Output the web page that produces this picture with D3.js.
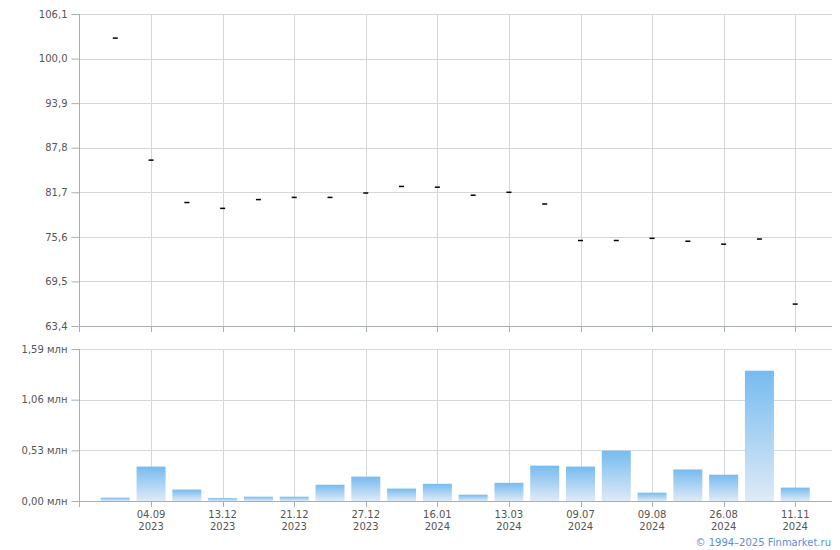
<!DOCTYPE html>
<html>
<head>
<meta charset="utf-8">
<script src="https://cdn.jsdelivr.net/npm/d3@7"></script>
<style>
  html, body { margin: 0; padding: 0; background: #fff; }
  svg { display: block; font-family: "DejaVu Sans", Verdana, sans-serif; }
</style>
</head>
<body>
<svg id="chart" width="840" height="550"></svg>
<script>
// ---- data ----
const dates = ["d0","04.09 2023","d2","13.12 2023","d4","21.12 2023","d6","27.12 2023","d8","16.01 2024",
               "d10","13.03 2024","d12","09.07 2024","d14","09.08 2024","d16","26.08 2024","d18","11.11 2024"];
const prices = [102.8, 86.1, 80.3, 79.5, 80.7, 81.0, 81.0, 81.6, 82.5, 82.4,
                81.3, 81.7, 80.1, 75.1, 75.1, 75.4, 75.0, 74.6, 75.3, 66.4];
const volumes = [0.035, 0.36, 0.12, 0.03, 0.045, 0.045, 0.17, 0.255, 0.13, 0.18,
                 0.066, 0.19, 0.37, 0.36, 0.526, 0.087, 0.33, 0.275, 1.363, 0.14];
const priceTicks = [63.4, 69.5, 75.6, 81.7, 87.8, 93.9, 100.0, 106.1];
const volumeTicks = [0, 0.53, 1.06, 1.59];
const labeledDates = ["04.09 2023","13.12 2023","21.12 2023","27.12 2023","16.01 2024",
                      "13.03 2024","09.07 2024","09.08 2024","26.08 2024","11.11 2024"];

// ---- layout ----
const svg = d3.select("#chart");
const left = 79.5, right = 832;
const top1 = 14, bot1 = 326;
const top2 = 349, bot2 = 501;
const gridColor = "#d3d7dc", axisColor = "#a9adb5", textColor = "#555";

const x = d3.scalePoint().domain(dates).range([left, 831]).padding(1);
const yP = d3.scaleLinear().domain([63.4, 106.1]).range([bot1, top1]);
const yV = d3.scaleLinear().domain([0, 1.59]).range([bot2, top2]);

const fmtP = v => d3.format(".1f")(v).replace(".", ",");
const fmtV = v => d3.format(".2f")(v).replace(".", ",") + " млн";

// gradient
const defs = svg.append("defs");
const grad = defs.append("linearGradient").attr("id", "barGrad")
  .attr("x1", 0).attr("y1", 0).attr("x2", 0).attr("y2", 1);
grad.append("stop").attr("offset", "0%").attr("stop-color", "#76bbf0");
grad.append("stop").attr("offset", "100%").attr("stop-color", "#dfeaf6");

function panel(yScale, yTop, yBot, ticks, fmt, showLabels) {
  const g = svg.append("g");
  g.selectAll(".hg").data(ticks).join("line")
    .attr("x1", left).attr("x2", right)
    .attr("y1", d => Math.round(yScale(d)) + 0.5).attr("y2", d => Math.round(yScale(d)) + 0.5)
    .attr("stroke", gridColor).attr("stroke-width", 1);
  g.selectAll(".vg").data(labeledDates).join("line")
    .attr("x1", d => Math.round(x(d)) + 0.5).attr("x2", d => Math.round(x(d)) + 0.5)
    .attr("y1", yTop).attr("y2", yBot)
    .attr("stroke", gridColor).attr("stroke-width", 1);
  const ax = d3.axisLeft(yScale).tickValues(ticks).tickFormat(fmt).tickSize(8).tickPadding(4);
  const ag = g.append("g").attr("transform", `translate(${left},0)`).call(ax);
  ag.select(".domain").remove();
  ag.selectAll(".tick line").attr("stroke", axisColor);
  ag.selectAll(".tick text").attr("fill", textColor).attr("font-size", 10)
    .attr("font-family", "DejaVu Sans, Verdana, sans-serif");
  g.append("line").attr("x1", left).attr("x2", left).attr("y1", yTop).attr("y2", yBot + 6)
    .attr("stroke", axisColor);
  g.append("line").attr("x1", left).attr("x2", right).attr("y1", Math.round(yBot) + 0.5).attr("y2", Math.round(yBot) + 0.5)
    .attr("stroke", axisColor);
  g.selectAll(".bt").data(labeledDates).join("line")
    .attr("x1", d => Math.round(x(d)) + 0.5).attr("x2", d => Math.round(x(d)) + 0.5)
    .attr("y1", yBot).attr("y2", yBot + 6)
    .attr("stroke", axisColor);
  if (showLabels) {
    const t = g.selectAll(".xl").data(labeledDates).join("text")
      .attr("x", d => x(d)).attr("y", yBot + 17)
      .attr("text-anchor", "middle").attr("font-size", 10).attr("fill", textColor);
    t.append("tspan").attr("x", d => x(d)).text(d => d.split(" ")[0]);
    t.append("tspan").attr("x", d => x(d)).attr("dy", 12).text(d => d.split(" ")[1]);
  }
  return g;
}

panel(yP, top1, bot1, priceTicks, fmtP, false);
panel(yV, top2, bot2, volumeTicks, fmtV, true);

// price dashes
svg.append("g").selectAll("line").data(prices).join("line")
  .attr("x1", (d, i) => x(dates[i]) - 2.5).attr("x2", (d, i) => x(dates[i]) + 2.5)
  .attr("y1", d => yP(d)).attr("y2", d => yP(d))
  .attr("stroke", "#000").attr("stroke-width", 1.5);

// volume bars
const bw = 29;
svg.append("g").selectAll("rect").data(volumes).join("rect")
  .attr("x", (d, i) => x(dates[i]) - bw / 2)
  .attr("width", bw)
  .attr("y", d => yV(d))
  .attr("height", d => bot2 - yV(d))
  .attr("fill", "url(#barGrad)");

// copyright
svg.append("text").attr("x", 831).attr("y", 546).attr("text-anchor", "end")
  .attr("font-size", 10).attr("fill", "#5b8ed8").text("© 1994–2025 Finmarket.ru");
</script>
</body>
</html>
